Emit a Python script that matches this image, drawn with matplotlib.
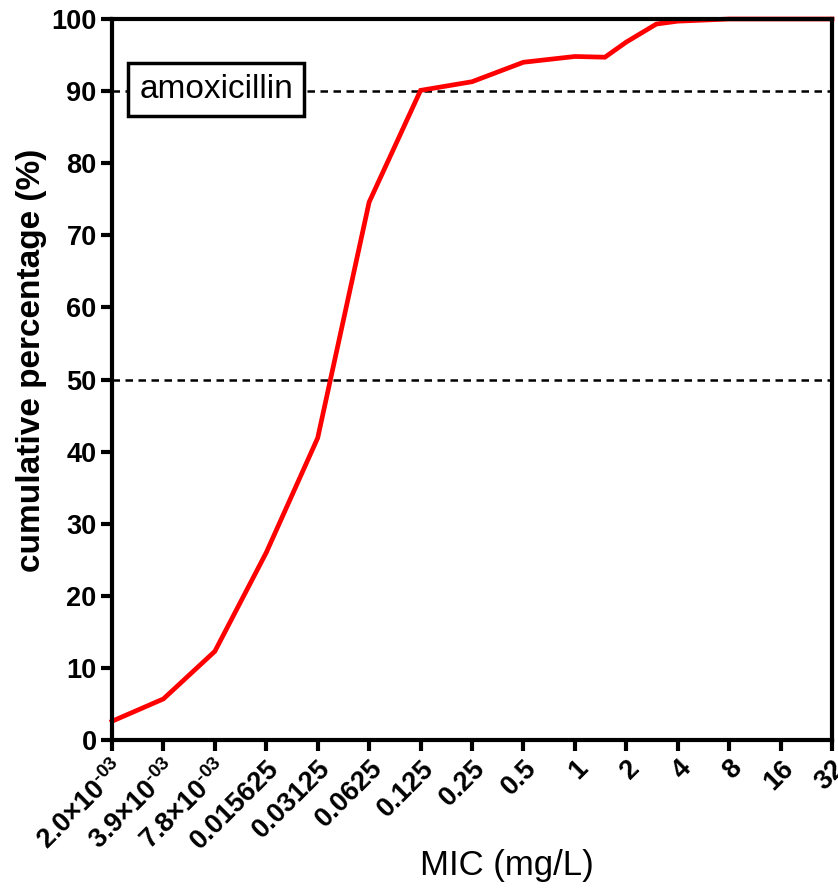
import matplotlib
matplotlib.use("Agg")
import matplotlib.pyplot as plt
import numpy as np

plt.rcParams['font.family'] = ['Liberation Sans', 'DejaVu Sans']
plt.rcParams['mathtext.fontset'] = 'custom'
plt.rcParams['mathtext.rm'] = 'Liberation Sans:bold'
plt.rcParams['mathtext.bf'] = 'Liberation Sans:bold'
plt.rcParams['mathtext.it'] = 'Liberation Sans:bold'

# data
mic = [0.001953125, 0.00390625, 0.0078125, 0.015625, 0.03125, 0.0625, 0.125,
       0.25, 0.5, 1, 1.5, 2, 3, 4, 8, 16, 32]
cum_pct = [2.6, 5.7, 12.3, 26.0, 41.9, 74.6, 90.1, 91.3, 94.0, 94.8, 94.7,
           96.8, 99.3, 99.7, 100, 100, 100]
tick_vals = [0.001953125, 0.00390625, 0.0078125, 0.015625, 0.03125, 0.0625,
             0.125, 0.25, 0.5, 1, 2, 4, 8, 16, 32]
tick_labels = [r'2.0×10$^{\text{-03}}$', r'3.9×10$^{\text{-03}}$',
               r'7.8×10$^{\text{-03}}$',
               '0.015625', '0.03125', '0.0625', '0.125', '0.25', '0.5',
               '1', '2', '4', '8', '16', '32']
ref_lines = [90, 50]
drug = 'amoxicillin'

fig = plt.figure(figsize=(8.38, 8.92), dpi=100)
ax = fig.add_axes([112/838, 1-740/892, 720/838, 721/892])

for r in ref_lines:
    ax.axhline(r, color='black', lw=1.8, ls=(0, (3, 2.2)), zorder=1)
ax.plot(mic, cum_pct, color='#ff0000', lw=3.4, zorder=3, clip_on=False,
        solid_joinstyle='miter')

ax.set_xscale('log', base=2)
ax.set_xlim(tick_vals[0], tick_vals[-1])
ax.set_ylim(0, 100)
ax.set_xticks(tick_vals)
ax.set_xticklabels(tick_labels, rotation=45, ha='right', rotation_mode='anchor',
                   fontsize=19.5, fontweight='bold')
ax.minorticks_off()
ax.set_yticks(np.arange(0, 101, 10))
ax.set_yticklabels([str(v) for v in range(0, 101, 10)], fontsize=19.5,
                   fontweight='bold')
ax.tick_params(axis='both', direction='out', length=8, width=3, pad=3)
for s in ax.spines.values():
    s.set_linewidth(3)
    s.set_zorder(4)

ax.set_xlabel('MIC (mg/L)', fontsize=25)
ax.xaxis.set_label_coords((507-112)/720, -(865-740)/721)
ax.xaxis.label.set_va('center')
ax.set_ylabel('cumulative percentage (%)', fontsize=24, fontweight='bold')
ax.yaxis.set_label_coords(-(112-32)/720, (740-360)/721)
ax.yaxis.label.set_va('center')

ax.text(0.1445, 0.902, drug, transform=ax.transAxes, fontsize=24,
        ha='center', va='center', zorder=5,
        bbox=dict(boxstyle='square,pad=0.33', fc='white', ec='black', lw=2.5))

fig.savefig('out.png', dpi=100)
